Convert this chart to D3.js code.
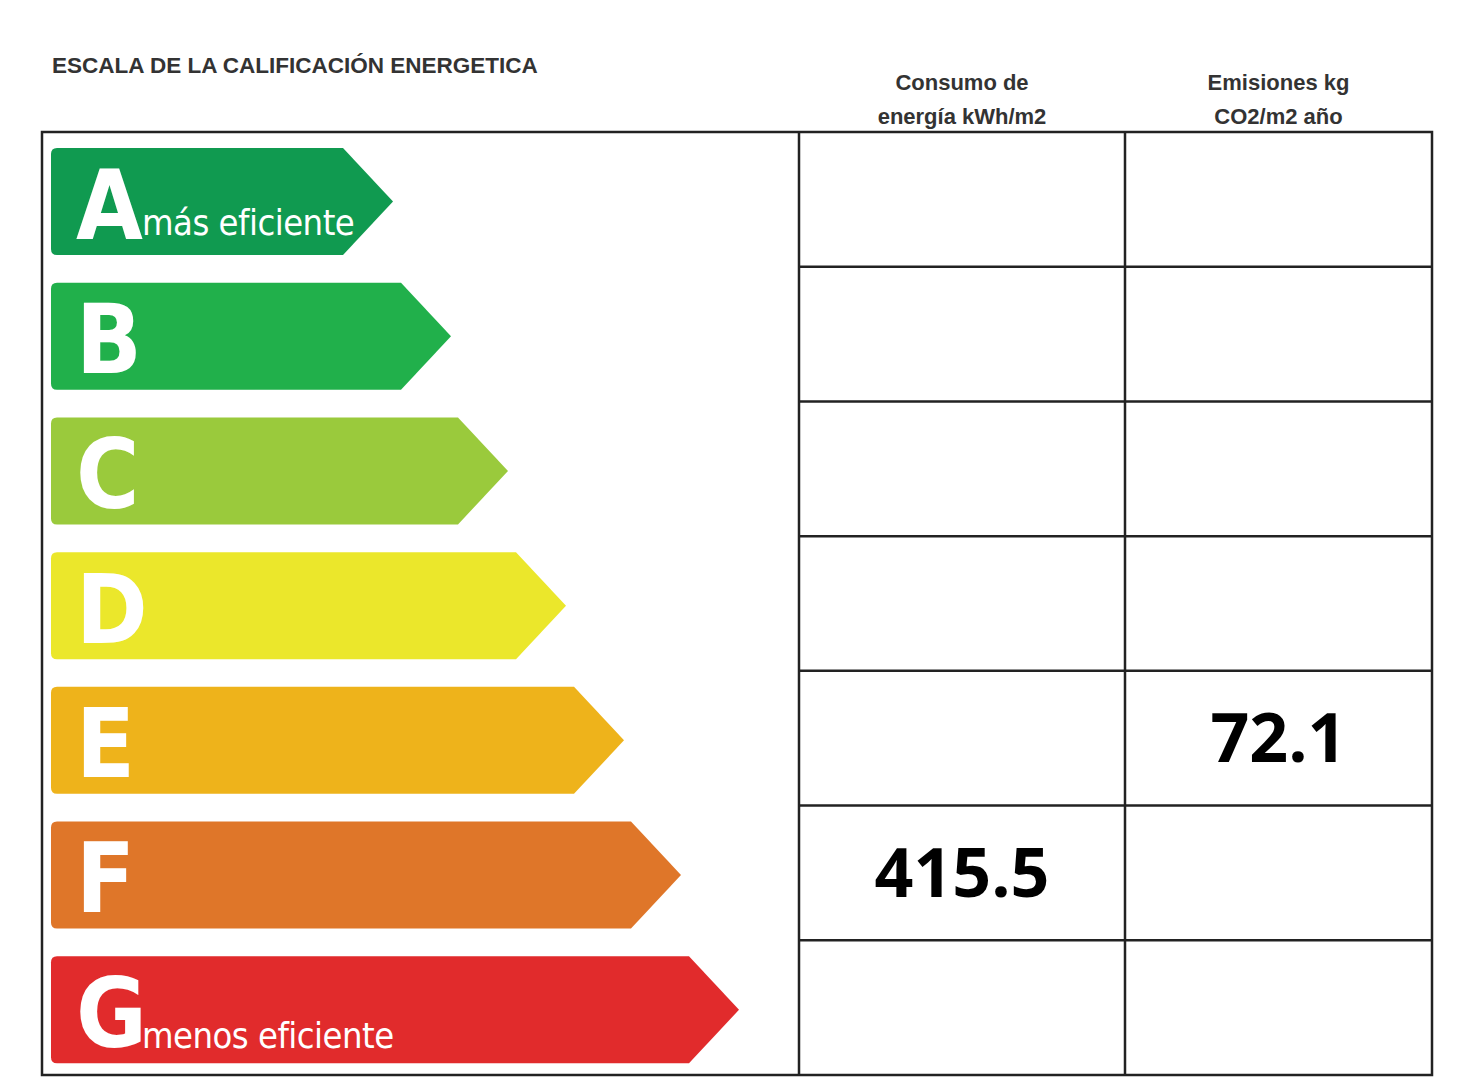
<!DOCTYPE html>
<html><head><meta charset="utf-8">
<script src="https://cdn.jsdelivr.net/npm/d3@7"></script>
<style>body{margin:0;background:#fff}</style></head>
<body><svg id="c" width="1473" height="1080"></svg>
<script>
const grades = ["A","B","C","D","E","F","G"];
const colors = ["#109a50","#21b04b","#9aca3c","#ebe72b","#eeb31b","#df7629","#e12b2c"];
const subLabels = ["más eficiente","","","","","","menos eficiente"];
const arrowLen = [342,400,457,515,573,630,688];
const consumo = {grade:"F", value:"415.5"};
const emisiones = {grade:"E", value:"72.1"};
const headers = [["Consumo de","energía kWh/m2"],["Emisiones kg","CO2/m2 año"]];

const svg = d3.select("#c");
const x0=42,x1=799,x2=1125,x3=1432, yT=132, yB=1075;
const y = d3.scaleBand().domain(grades).range([yT,yB]);

svg.append("text").attr("x",52).attr("y",73).text("ESCALA DE LA CALIFICACIÓN ENERGETICA")
 .attr("font-family","Liberation Sans, Arial").attr("font-weight","bold").attr("font-size",22.5).attr("fill","#333");
[[x1,x2],[x2,x3]].forEach(([a,b],i)=>{
  headers[i].forEach((t,j)=>svg.append("text").attr("x",(a+b)/2).attr("y",90+j*34).attr("text-anchor","middle")
   .attr("font-family","Liberation Sans, Arial").attr("font-weight","bold").attr("font-size",22).attr("fill","#333").text(t));
});

const g = svg.append("g");
grades.forEach((k,i)=>{
  const top=y(k)+16, h=107, L=51, R=L+arrowLen[i], d=50;
  const p=d3.path();
  const r=6;
  p.moveTo(L+r,top); p.lineTo(R-d,top); p.lineTo(R,top+h/2); p.lineTo(R-d,top+h);
  p.lineTo(L+r,top+h); p.quadraticCurveTo(L,top+h,L,top+h-r); p.lineTo(L,top+r); p.quadraticCurveTo(L,top,L+r,top); p.closePath();
  g.append("path").attr("d",p.toString()).attr("fill",colors[i]);
  g.append("text").attr("x",76).attr("y",top+h/2+37).text(k).attr("fill","#fff")
   .attr("font-family","Liberation Sans Narrow, DejaVu Sans Condensed, Arial").attr("font-stretch","condensed")
   .attr("font-weight","bold").attr("font-size",96);
  if(subLabels[i]) g.append("text").attr("x",142).attr("y",top+h/2+ (i==0?33:38)).text(subLabels[i]).attr("fill","#fff")
   .attr("font-family","Liberation Sans Narrow, DejaVu Sans Condensed, Arial").attr("font-stretch","condensed")
   .attr("font-size",36).attr("letter-spacing",-0.5);
});

// grid
svg.append("rect").attr("x",x0).attr("y",yT).attr("width",x3-x0).attr("height",yB-yT).attr("fill","none").attr("stroke","#222").attr("stroke-width",2.5);
[x1,x2].forEach(xx=>svg.append("line").attr("x1",xx).attr("x2",xx).attr("y1",yT).attr("y2",yB).attr("stroke","#222").attr("stroke-width",2.5));
grades.slice(1).forEach(k=>svg.append("line").attr("x1",x1).attr("x2",x3).attr("y1",y(k)).attr("y2",y(k)).attr("stroke","#222").attr("stroke-width",2.5));

[[consumo,x1,x2],[emisiones,x2,x3]].forEach(([v,a,b])=>{
  svg.append("text").attr("x",(a+b)/2).attr("y",y(v.grade)+y.bandwidth()/2+24).attr("text-anchor","middle")
   .attr("font-family","Open Sans, Noto Sans").attr("font-weight","bold").attr("font-size",68).attr("fill","#000").text(v.value);
});
</script></body></html>
